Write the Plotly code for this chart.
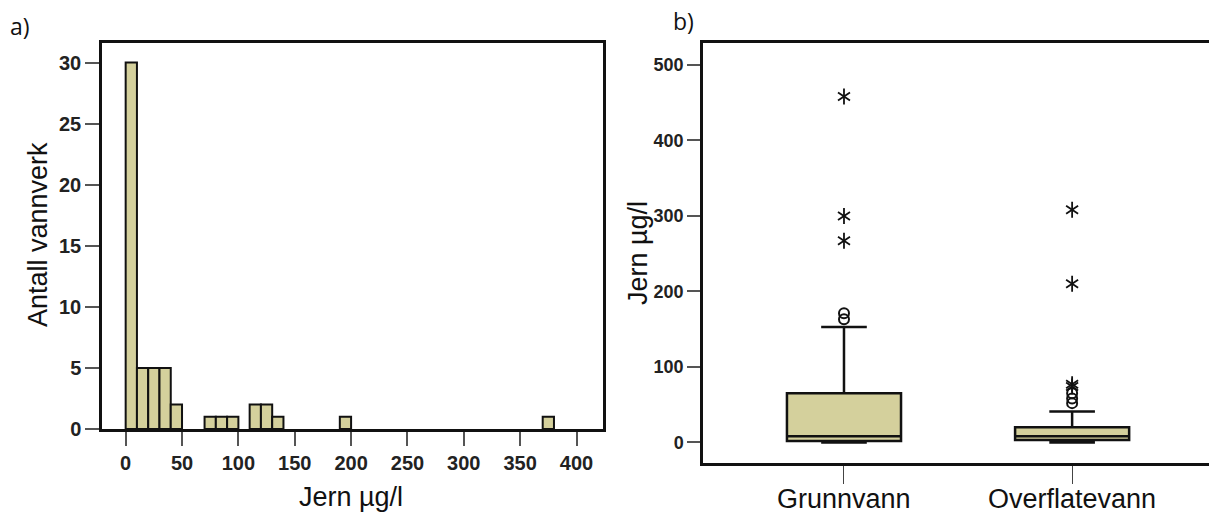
import plotly.graph_objects as go

# ---- data ----
bin_starts = [0, 10, 20, 30, 40, 70, 80, 90, 110, 120, 130, 190, 370]
bin_counts = [30, 5, 5, 5, 2, 1, 1, 1, 2, 2, 1, 1, 1]
bin_width = 10

groups = ["Grunnvann", "Overflatevann"]
q1 = [2, 3]
median = [8, 8]
q3 = [65, 20]
lower_fence = [0, 0]
upper_fence = [153, 41]

circle_group = ["Grunnvann", "Grunnvann", "Overflatevann", "Overflatevann", "Overflatevann"]
circle_vals = [163, 171, 52, 58, 65]
star_group = ["Grunnvann", "Grunnvann", "Grunnvann", "Overflatevann", "Overflatevann", "Overflatevann", "Overflatevann"]
star_vals = [267, 300, 458, 74, 77, 210, 308]

FILL = "#d4d09c"
W, H = 1209, 515
FONT = "Liberation Sans, Arial, sans-serif"

def px_x(p):
    return p / W

def px_y(p):
    return 1 - p / H

fig = go.Figure()

fig.add_trace(go.Bar(
    x=bin_starts, y=bin_counts, width=bin_width, offset=0,
    marker=dict(color=FILL, line=dict(color="#111", width=2)),
    xaxis="x", yaxis="y", showlegend=False,
))

fig.add_trace(go.Box(
    x=groups, q1=q1, median=median, q3=q3,
    lowerfence=lower_fence, upperfence=upper_fence,
    boxpoints=False, width=0.5, whiskerwidth=0.4,
    fillcolor=FILL, line=dict(color="#111", width=2.5),
    xaxis="x2", yaxis="y2", showlegend=False,
))

fig.add_trace(go.Scatter(
    x=circle_group, y=circle_vals, mode="markers",
    marker=dict(symbol="circle-open", size=10, color="#111", line=dict(width=2)),
    xaxis="x2", yaxis="y2", showlegend=False,
))
for sym in ["y-up-open", "y-down-open"]:
    fig.add_trace(go.Scatter(
        x=star_group, y=star_vals, mode="markers",
        marker=dict(symbol=sym, size=10, color="#111", line=dict(width=1.8, color="#111")),
        xaxis="x2", yaxis="y2", showlegend=False,
    ))

hist_tickfont = dict(family=FONT, size=20, color="#222", weight="bold")
box_tickfont = dict(family=FONT, size=18, color="#222", weight="bold")

fig.update_layout(
    width=W, height=H,
    margin=dict(l=0, r=0, t=0, b=0, autoexpand=False),
    paper_bgcolor="white", plot_bgcolor="white",
    xaxis=dict(
        domain=[px_x(102), px_x(603)], range=[-21, 423.5],
        tickvals=[0, 50, 100, 150, 200, 250, 300, 350, 400],
        showgrid=False, zeroline=False, automargin=False,
        showline=True, linecolor="#111", linewidth=2.5, mirror=True,
        ticks="outside", ticklen=14, tickwidth=1.5, tickcolor="#555",
        tickfont=hist_tickfont, anchor="y",
    ),
    yaxis=dict(
        domain=[1 - 429 / H, 1 - 43 / H], range=[0, 31.6],
        tickvals=[0, 5, 10, 15, 20, 25, 30],
        showgrid=False, zeroline=False, automargin=False,
        showline=True, linecolor="#111", linewidth=2.5, mirror=True,
        ticks="outside", ticklen=14, tickwidth=1.5, tickcolor="#555",
        tickfont=hist_tickfont, anchor="x",
    ),
    xaxis2=dict(
        domain=[px_x(703), 1.0], range=[-0.618, 1.6],
        type="category", categoryorder="array", categoryarray=groups,
        showgrid=False, zeroline=False, automargin=False,
        showline=True, linecolor="#111", linewidth=2.5, mirror=True,
        ticks="outside", ticklen=18, tickwidth=1, tickcolor="#444",
        showticklabels=False, anchor="y2",
    ),
    yaxis2=dict(
        domain=[1 - 463 / H, 1 - 43 / H], range=[-27.3, 529],
        tickvals=[0, 100, 200, 300, 400, 500],
        showgrid=False, zeroline=False, automargin=False,
        showline=True, linecolor="#111", linewidth=2.5, mirror=False,
        ticks="outside", ticklen=13, tickwidth=1.5, tickcolor="#555",
        tickfont=box_tickfont, anchor="x2",
    ),
)

title_font = dict(family=FONT, size=27, color="#111")
annos = [
    dict(text="Antall vannverk", x=px_x(38), y=px_y(235), textangle=-90, font=title_font),
    dict(text="Jern µg/l", x=px_x(351), y=px_y(497), font=title_font),
    dict(text="Jern µg/l", x=px_x(638), y=px_y(253), textangle=-90, font=title_font),
    dict(text="a)", x=px_x(20), y=px_y(26), font=dict(family="Open Sans, sans-serif", size=23, color="#111")),
    dict(text="b)", x=px_x(683), y=px_y(21), font=dict(family="Open Sans, sans-serif", size=23, color="#111")),
]
for a in annos:
    fig.add_annotation(xref="paper", yref="paper", showarrow=False,
                       xanchor="center", yanchor="middle", **a)

# category labels under the box plot
for g in groups:
    fig.add_annotation(xref="x2", yref="paper", x=g, y=px_y(499), text=g,
                       showarrow=False, xanchor="center", yanchor="middle",
                       font=dict(family=FONT, size=27, color="#111"))

fig.write_html(
    "out.html",
    config={"displayModeBar": False},
    post_script="document.body.style.margin='0px';document.body.style.overflow='hidden';",
)
